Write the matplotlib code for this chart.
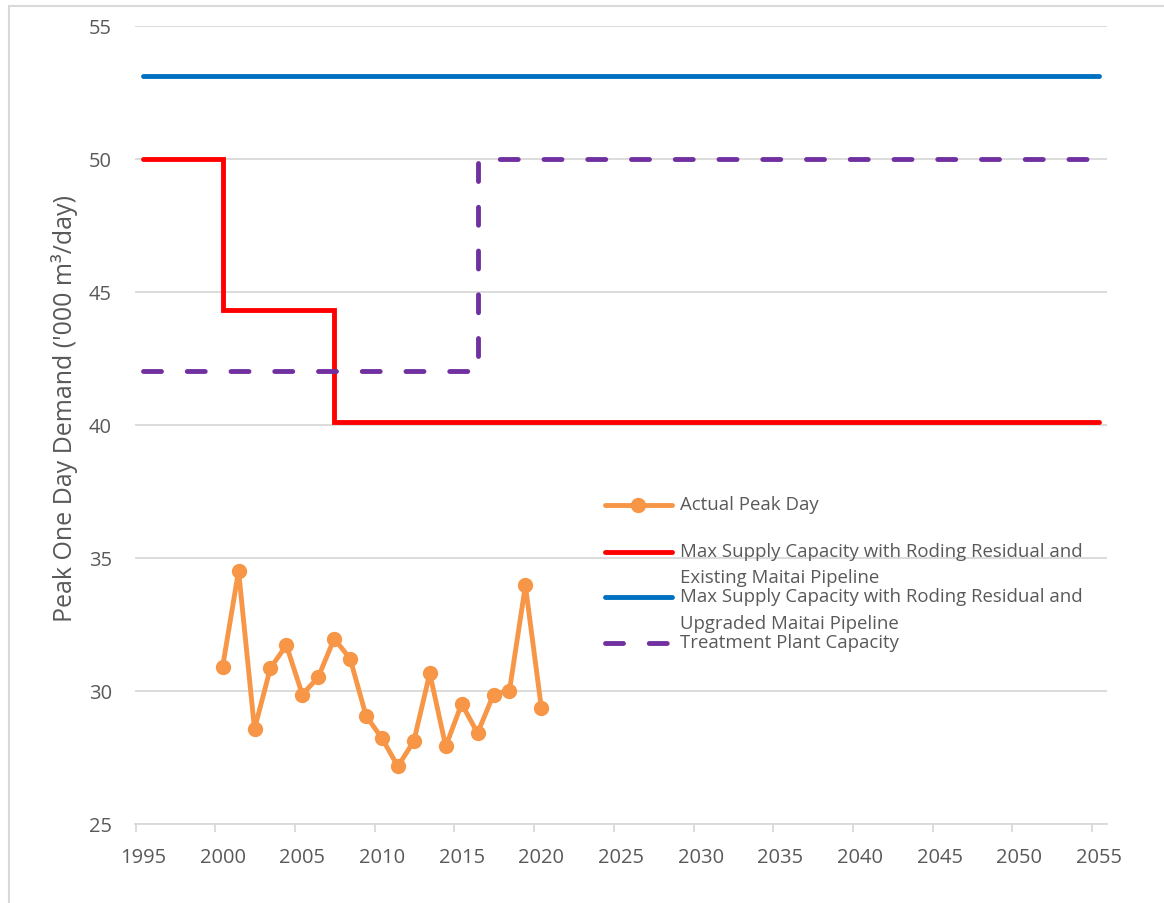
import matplotlib
matplotlib.use('Agg')
import matplotlib.pyplot as plt
from matplotlib.lines import Line2D
from matplotlib.patches import Rectangle

plt.rcParams['font.family'] = ['Open Sans', 'DejaVu Sans']

# actual peak day demand ('000 m3/day)
years = list(range(2000, 2021))
peak = [30.9, 34.5, 28.55, 30.85, 31.7, 29.85, 30.5, 31.95, 31.2, 29.05, 28.2,
        27.15, 28.1, 30.65, 27.9, 29.5, 28.4, 29.85, 30.0, 33.95, 29.35]

# capacity steps (value holds until next year)
existing_x = [1995, 2000, 2007, 2055]
existing_y = [50, 44.3, 40.1, 40.1]
upgraded_x = [1995, 2055]
upgraded_y = [53.1, 53.1]
plant_x = [1995, 2016, 2055]
plant_y = [42, 50, 50]

x_ticks = list(range(1995, 2056, 5))
y_ticks = list(range(25, 56, 5))

labels = ['Actual Peak Day',
          'Max Supply Capacity with Roding Residual and\nExisting Maitai Pipeline',
          'Max Supply Capacity with Roding Residual and\nUpgraded Maitai Pipeline',
          'Treatment Plant Capacity']

ORANGE = '#F79646'
RED = '#FF0000'
BLUE = '#0070C0'
PURPLE = '#7030A0'
GRID = '#D9D9D9'
TXT = '#595959'

W, H = 1164, 904
fig = plt.figure(figsize=(W / 100, H / 100), dpi=100)

def px(x, y):
    return x / W, 1 - y / H

# outer chart border
fig.patches.append(Rectangle(px(9, 1000), 2, (1000 - 7) / H, transform=fig.transFigure,
                             fill=False, edgecolor=GRID, lw=1.5))

ax_l, ax_t, ax_r, ax_b = 135, 26.7, 1107, 824.5
ax = fig.add_axes([ax_l / W, 1 - ax_b / H, (ax_r - ax_l) / W, (ax_b - ax_t) / H])

lw = 3.5
ax.plot(years, peak, color=ORANGE, lw=lw, marker='o', ms=10, mec=ORANGE,
        solid_joinstyle='round', solid_capstyle='round', zorder=5)
ax.plot(existing_x, existing_y, color=RED, lw=lw, drawstyle='steps-post',
        solid_joinstyle='miter', solid_capstyle='round', zorder=4)
ax.plot(upgraded_x, upgraded_y, color=BLUE, lw=lw, solid_capstyle='round', zorder=4)
ax.plot(plant_x, plant_y, color=PURPLE, lw=lw, drawstyle='steps-post',
        dashes=(3.7, 5.3), dash_capstyle='round', zorder=4)

ax.set_xlim(1994.5, 2055.5)
ax.set_ylim(25, 55)
ax.set_xticks(x_ticks)
ax.set_xticks([t - 0.45 for t in x_ticks], minor=True)
ax.set_yticks(y_ticks)
ax.grid(axis='y', color=GRID, lw=1.3)
ax.set_axisbelow(True)
for s in ['top', 'right', 'left']:
    ax.spines[s].set_visible(False)
ax.spines['bottom'].set_color(GRID)
ax.spines['bottom'].set_linewidth(1.3)
ax.tick_params(axis='x', which='major', length=0, pad=17, labelsize=14.5, labelcolor=TXT)
ax.tick_params(axis='x', which='minor', length=6, width=1.3, color=GRID)
ax.tick_params(axis='y', length=0, pad=16.5, labelsize=14.5, labelcolor=TXT)
ax.set_ylabel("Peak One Day Demand ('000 m\u00b3/day)", fontsize=18, color=TXT)
ax.yaxis.label.set_verticalalignment('center')
ax.yaxis.set_label_coords((65 - ax_l) / (ax_r - ax_l), 1 - (408 - ax_t) / (ax_b - ax_t))

# legend drawn by hand to keep Excel's spacing
handle_y = [506, 552.7, 598.3, 644]
styles = [dict(color=ORANGE), dict(color=RED), dict(color=BLUE),
          dict(color=PURPLE, dashes=(3.7, 5.3), dash_capstyle='round')]
for i, (lab, hy, st) in enumerate(zip(labels, handle_y, styles)):
    (x0, y0), (x1, _) = px(605, hy), px(672, hy)
    ln = Line2D([x0, x1], [y0, y0], transform=fig.transFigure, lw=lw,
                solid_capstyle='round', **st)
    fig.lines.append(ln)
    if i == 0:
        mx, my = px(638, hy)
        fig.lines.append(Line2D([mx], [my], transform=fig.transFigure, marker='o',
                                ms=10, color=ORANGE, lw=0))
    for j, line in enumerate(lab.split('\n')):
        tx, ty = px(680, hy - 1 + j * 26.3)
        fig.text(tx, ty, line, fontsize=13.4, color=TXT, va='center', ha='left')

fig.savefig('out.png', dpi=100)
